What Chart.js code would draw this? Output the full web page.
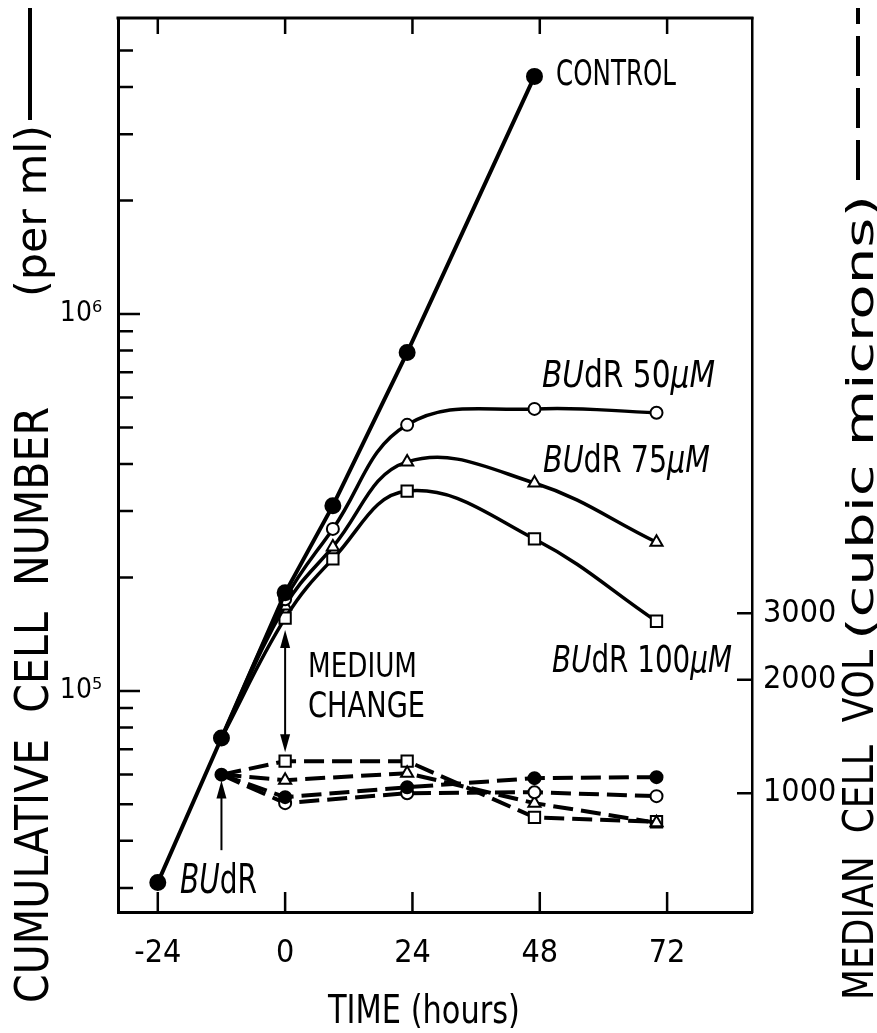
<!DOCTYPE html>
<html>
<head>
<meta charset="utf-8">
<script src="https://cdn.jsdelivr.net/npm/chart.js@4.4.1/dist/chart.umd.min.js"></script>
<style>
  html, body { margin: 0; padding: 0; background: #fff; }
</style>
</head>
<body>
<canvas id="cell_canvas" width="877" height="1033"></canvas>
<script>
// sampling times (hours) and readings
const hours = [-24, -12, 0, 9, 23, 47, 70];
const controlCells = [31000, 75000, 182000, 310000, 790000, 4270000, null];
const budr50Cells  = [null, 75000, 175000, 269000, 508000, 560000, 547000];
const budr75Cells  = [null, 75000, 168000, 241000, 405000, 356000, 248000];
const budr100Cells = [null, 75000, 156000, 224000, 339000, 253000, 153000];
const controlVol = [null, 1120, 976, null, 1037, 1096, 1103];
const budr50Vol  = [null, 1120, 941, null, 1000, 1006, 982];
const budr75Vol  = [null, 1120, 1083, null, 1130, 941, 835];
const budr100Vol = [null, 1120, 1216, null, 1216, 863, 840];

const hourTicks = [-24, 0, 24, 48, 72];
const cellTicks = [1e5, 1e6];
const cellMinorTicks = [3e4, 4e4, 5e4, 6e4, 7e4, 8e4, 9e4, 2e5, 3e5, 4e5, 5e5, 6e5, 7e5, 8e5, 9e5, 2e6, 3e6, 4e6, 5e6];
const volTicks = [1000, 2000, 3000];

const NARROW = "'Liberation Sans Narrow', 'DejaVu Sans Condensed', sans-serif";
const INK = '#000';

const pts = arr => hours.map((h, i) => ({x: h, y: arr[i]})).filter(p => p.y !== null);
const hideStart = r => c => (c.raw && c.raw.x === -12 ? 0 : r);

function solid(data, style, r, fill) {
    return {
        data: pts(data), yAxisID: 'y', borderColor: INK, borderWidth: 3.5, tension: 0.4,
        pointStyle: style, pointRadius: hideStart(r), pointBorderWidth: 2,
        pointBackgroundColor: fill, pointBorderColor: INK
    };
}
function dashed(data, style, r, fill, keepStart) {
    return {
        data: pts(data), yAxisID: 'y2', borderColor: INK, borderWidth: 4, borderDash: [20, 8], tension: 0,
        pointStyle: style, pointRadius: keepStart ? r : hideStart(r), pointBorderWidth: 2,
        pointBackgroundColor: fill, pointBorderColor: INK
    };
}

// text helper: parts = [[text, italic]], squeezed to a given width, drawn on baseline y
function fitText(ctx, parts, x, y, width, size) {
    const fnt = it => (it ? 'italic ' : '') + size + 'px ' + NARROW;
    let total = 0;
    parts.forEach(p => { ctx.font = fnt(p[1]); total += ctx.measureText(p[0]).width; });
    ctx.save();
    ctx.translate(x, y);
    ctx.scale(width / total, 1);
    ctx.textBaseline = 'alphabetic';
    ctx.textAlign = 'left';
    let cx = 0;
    parts.forEach(p => { ctx.font = fnt(p[1]); ctx.fillText(p[0], cx, 0); cx += ctx.measureText(p[0]).width; });
    ctx.restore();
}

function arrowHead(ctx, x, y, dir) {
    ctx.beginPath();
    ctx.moveTo(x, y);
    ctx.lineTo(x - 5, y - dir * 18);
    ctx.lineTo(x + 5, y - dir * 18);
    ctx.closePath();
    ctx.fill();
}

// vertical scales: no extra room for labels at the ends
const noPad = s => { s.paddingTop = 0; s.paddingBottom = 0; };

const framePlugin = {
    id: 'frame',
    afterDraw(chart) {
        const {ctx, chartArea: a, scales} = chart;
        ctx.save();
        ctx.strokeStyle = INK;
        ctx.lineWidth = 3;
        ctx.beginPath();
        ctx.moveTo(a.left - 1.5, a.top); ctx.lineTo(a.right + 1.5, a.top);
        ctx.stroke();
        ctx.lineWidth = 2.5;
        ctx.beginPath();
        hourTicks.forEach(v => {
            const px = scales.x.getPixelForValue(v);
            ctx.moveTo(px, a.bottom); ctx.lineTo(px, a.bottom - 20);
            ctx.moveTo(px, a.top); ctx.lineTo(px, a.top + 16);
        });
        cellTicks.forEach(v => {
            const py = scales.y.getPixelForValue(v);
            ctx.moveTo(a.left, py); ctx.lineTo(a.left + 22, py);
        });
        cellMinorTicks.forEach(v => {
            const py = scales.y.getPixelForValue(v);
            ctx.moveTo(a.left, py); ctx.lineTo(a.left + 15, py);
        });
        volTicks.forEach(v => {
            const py = scales.y2.getPixelForValue(v);
            ctx.moveTo(a.right, py); ctx.lineTo(a.right - 15, py);
        });
        ctx.stroke();
        ctx.restore();
    }
};

const notesPlugin = {
    id: 'notes',
    afterDraw(chart) {
        const {ctx, scales} = chart;
        const X = scales.x, Y = scales.y, Y2 = scales.y2;
        ctx.save();
        ctx.fillStyle = INK;
        ctx.strokeStyle = INK;

        fitText(ctx, [['CONTROL', false]], 556, 85, 120, 36);
        fitText(ctx, [['BU', true], ['dR 50', false], ['\u03bcM', true]], 542, 387, 173, 37);
        fitText(ctx, [['BU', true], ['dR 75', false], ['\u03bcM', true]], 543, 472, 167, 37);
        fitText(ctx, [['BU', true], ['dR 100', false], ['\u03bcM', true]], 552, 672, 180, 37);
        fitText(ctx, [['MEDIUM', false]], 308, 677, 109, 34);
        fitText(ctx, [['CHANGE', false]], 308, 717, 117, 35);
        fitText(ctx, [['BU', true], ['dR', false]], 180, 893, 77, 40);

        // medium change double arrow
        ctx.lineWidth = 2;
        const mx = X.getPixelForValue(0);
        const mTop = Y.getPixelForValue(145000), mBot = Y2.getPixelForValue(1285);
        ctx.beginPath(); ctx.moveTo(mx, mTop + 10); ctx.lineTo(mx, mBot - 10); ctx.stroke();
        arrowHead(ctx, mx, mTop, -1);
        arrowHead(ctx, mx, mBot, 1);
        // BUdR addition arrow
        const bx = X.getPixelForValue(-12);
        const bTip = Y2.getPixelForValue(1080), bTail = Y2.getPixelForValue(706);
        ctx.beginPath(); ctx.moveTo(bx, bTail); ctx.lineTo(bx, bTip + 10); ctx.stroke();
        arrowHead(ctx, bx, bTip, -1);

        // x axis title
        fitText(ctx, [['TIME (hours)', false]], 328, 1023, 192, 39);

        // left axis title, rotated
        ctx.save();
        ctx.translate(48, 1003);
        ctx.rotate(-Math.PI / 2);
        fitText(ctx, [['CUMULATIVE  CELL  NUMBER', false]], 0, 0, 596, 46);
        fitText(ctx, [['(per ml)', false]], 706, -2, 172, 42);
        ctx.restore();
        ctx.lineWidth = 4;
        ctx.beginPath(); ctx.moveTo(30, 120); ctx.lineTo(30, 8); ctx.stroke();

        // right axis title, rotated
        ctx.save();
        ctx.translate(873, 1000);
        ctx.rotate(-Math.PI / 2);
        fitText(ctx, [['MEDIAN  CELL  VOL', false]], 0, 0, 350, 42);
        fitText(ctx, [['(cubic microns)', false]], 360, 0, 445, 38);
        ctx.restore();
        ctx.lineWidth = 4;
        ctx.setLineDash([40, 12]);
        ctx.beginPath(); ctx.moveTo(858, 180); ctx.lineTo(858, 8); ctx.stroke();
        ctx.restore();
    }
};

const tickFont = {family: NARROW, size: 32};

new Chart(document.getElementById('cell_canvas'), {
    type: 'line',
    data: {
        datasets: [
            {
                data: pts(controlCells), yAxisID: 'y', borderColor: INK, borderWidth: 4, tension: 0,
                pointStyle: 'circle', pointRadius: 6.5, pointBackgroundColor: INK, pointBorderColor: INK
            },
            solid(budr50Cells, 'circle', 6, '#fff'),
            solid(budr75Cells, 'triangle', 7, '#fff'),
            solid(budr100Cells, 'rect', 8, '#fff'),
            dashed(controlVol, 'circle', 6, INK, true),
            dashed(budr50Vol, 'circle', 6, '#fff', false),
            dashed(budr75Vol, 'triangle', 7, '#fff', false),
            dashed(budr100Vol, 'rect', 8, '#fff', false)
        ]
    },
    options: {
        responsive: false,
        devicePixelRatio: 1,
        animation: false,
        spanGaps: true,
        layout: {padding: {top: 18, left: 0, right: 0, bottom: 0}},
        plugins: {legend: {display: false}, tooltip: {enabled: false}},
        scales: {
            x: {
                type: 'linear', min: -31.5, max: 88,
                grid: {display: false},
                border: {color: INK, width: 3},
                afterBuildTicks: s => { s.ticks = hourTicks.map(v => ({value: v})); },
                afterFit: s => { s.height = 121; s.paddingLeft = 0; s.paddingRight = 0; },
                ticks: {color: INK, font: tickFont, padding: 14, maxRotation: 0, callback: v => String(v)}
            },
            y: {
                type: 'logarithmic', position: 'left', min: 25900, max: 6100000,
                grid: {display: false},
                border: {color: INK, width: 3},
                afterBuildTicks: s => { s.ticks = cellTicks.map(v => ({value: v})); },
                afterFit: s => { s.width = 118; noPad(s); },
                ticks: {
                    color: INK, font: {family: NARROW, size: 28}, padding: 8,
                    callback: v => '10' + (v >= 1e6 ? '\u2076' : '\u2075')
                }
            },
            y2: {
                type: 'logarithmic', position: 'right', min: 484, max: 113800,
                grid: {display: false},
                border: {color: INK, width: 2.5},
                afterBuildTicks: s => { s.ticks = volTicks.map(v => ({value: v})); },
                afterFit: s => { s.width = 125; noPad(s); },
                ticks: {color: INK, font: tickFont, padding: 3, callback: v => String(v)}
            }
        }
    },
    plugins: [framePlugin, notesPlugin]
});
</script>
</body>
</html>
